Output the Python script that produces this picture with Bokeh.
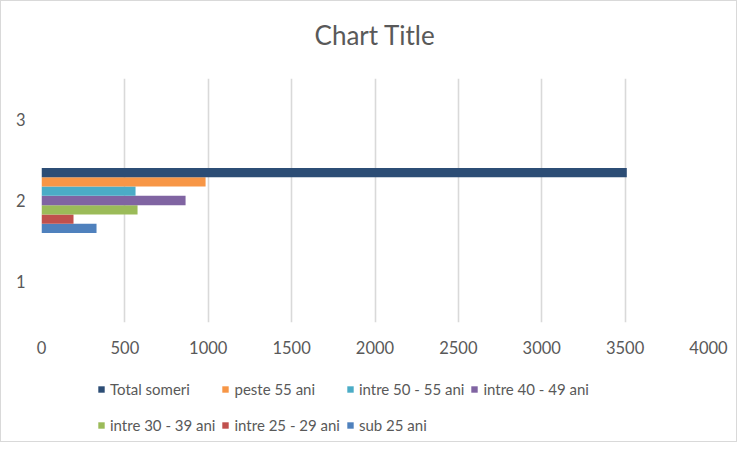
from bokeh.plotting import figure
from bokeh.models import (ColumnDataSource, Range1d, FactorRange, SingleIntervalTicker,
                          Legend, LegendItem, Label)
from bokeh.layouts import column
from bokeh.transform import dodge
from bokeh.embed import file_html
from bokeh.resources import INLINE

# ---- data ----
categories = ["1", "2", "3"]
series_names = ["sub 25 ani", "intre 25 - 29 ani", "intre 30 - 39 ani",
                "intre 40 - 49 ani", "intre 50 - 55 ani", "peste 55 ani", "Total someri"]
series_category = ["2"]
sub_25 = [330]
intre_25_29 = [192]
intre_30_39 = [576]
intre_40_49 = [864]
intre_50_55 = [564]
peste_55 = [984]
total_someri = [3510]
x_ticks_interval = 500
chart_title = "Chart Title"

series_values = [sub_25, intre_25_29, intre_30_39, intre_40_49, intre_50_55, peste_55, total_someri]
colors = ["#4F81BD", "#C0504D", "#9BBB59", "#8064A2", "#4BACC6", "#F79646", "#2C4D75"]

FONT = "Lato"
TXT = "#595959"

# ---- chart ----
p = figure(width=735, height=285, output_backend="svg", toolbar_location=None,
           x_range=Range1d(0, 4000), y_range=FactorRange(*categories),
           min_border_left=40, min_border_right=28, min_border_top=0, min_border_bottom=41)
p.frame_width = 667
p.frame_height = 244
p.outline_line_color = None
p.background_fill_color = "white"
p.border_fill_color = "white"
p.title.text = ""
p.title.visible = False

n = len(series_values)
bar_h = 0.8 / n
sources = []
for i, (name, vals, col) in enumerate(zip(series_names, series_values, colors)):
    src = ColumnDataSource(dict(y=series_category, x=vals))
    sources.append(src)
    p.hbar(y=dodge("y", (i - (n - 1) / 2) * bar_h, range=p.y_range), right="x", left=0,
           height=bar_h, source=src, fill_color=col, line_color=None)

xax = p.below[0]
yax = p.left[0]
xax.ticker = SingleIntervalTicker(interval=x_ticks_interval)
for ax in (xax, yax):
    ax.axis_line_color = None
    ax.major_tick_line_color = None
    ax.minor_tick_line_color = None
    ax.major_tick_in = 0
    ax.major_tick_out = 0
    ax.minor_tick_in = 0
    ax.minor_tick_out = 0
    ax.major_label_text_font = FONT
    ax.major_label_text_font_size = "16.5px"
    ax.major_label_text_color = TXT
xax.major_label_standoff = 18
yax.major_label_standoff = 16

p.xgrid.grid_line_color = "#d9d9d9"
p.xgrid.grid_line_width = 1.6
p.ygrid.grid_line_color = None

# ---- title strip ----
p0 = figure(width=735, height=77, output_backend="svg", toolbar_location=None,
            x_axis_type=None, y_axis_type=None, min_border=0,
            x_range=p.x_range, y_range=Range1d(0, 77))
p0.outline_line_color = None
p0.grid.visible = False
p0.background_fill_color = "white"
p0.border_fill_color = "white"
p0.title.visible = False
p0.add_layout(Label(x=2000, y=43.5, text=chart_title, text_align="center",
                    text_baseline="middle", text_font=FONT, text_font_size="26px",
                    text_color=TXT))

# ---- legend strip (same data; renderers hidden, only their legend swatches show) ----
p2 = figure(width=735, height=78, output_backend="svg", toolbar_location=None,
            x_axis_type=None, y_axis_type=None, min_border=0,
            x_range=Range1d(0, 4000), y_range=FactorRange(*categories))
p2.outline_line_color = None
p2.grid.visible = False
p2.background_fill_color = "white"
p2.border_fill_color = "white"
p2.title.visible = False
legend_renderers = []
for name, src, col in zip(series_names, sources, colors):
    r = p2.hbar(y="y", right="x", left=0, height=bar_h, source=src,
                fill_color=col, line_color=None, visible=False)
    legend_renderers.append((name, r))

items = [LegendItem(label=name, renderers=[r]) for name, r in reversed(legend_renderers)]
legend = Legend(items=items, ncols=4, location=(56, 1), orientation="horizontal",
                glyph_width=8, glyph_height=8, label_standoff=5,
                label_height=30, spacing=6, padding=0, margin=0,
                border_line_color=None, background_fill_alpha=0,
                inactive_fill_alpha=0,
                label_text_font=FONT, label_text_font_size="15px", label_text_color=TXT)
p2.add_layout(legend, "center")

layout = column(p0, p, p2, spacing=0)
layout.styles = {"border": "1px solid #d9d9d9"}

open("out.html", "w").write(file_html(layout, INLINE))
